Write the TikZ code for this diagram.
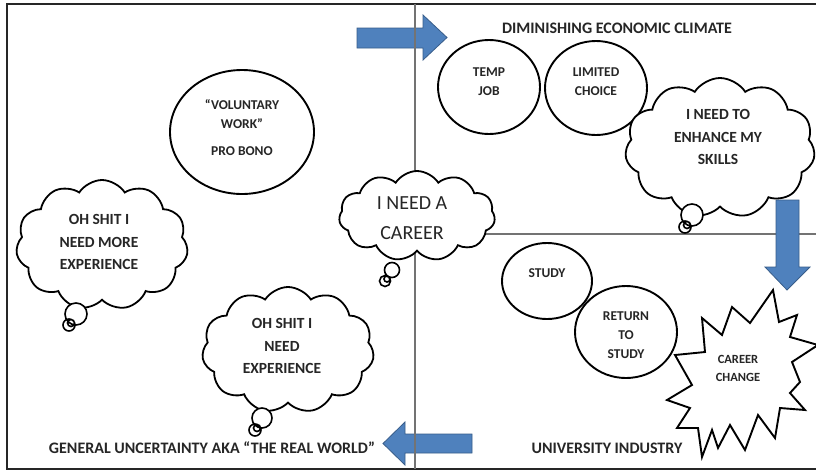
\documentclass[tikz,border=0pt]{standalone}
\usepackage{fontspec}
\setmainfont{Carlito}
\usetikzlibrary{shapes.geometric,shapes.symbols}

\definecolor{blockblue}{HTML}{4F81BD}
\definecolor{blockedge}{HTML}{385D8A}

\tikzset{
  oval/.style={draw,ellipse,line width=1.9pt,fill=white},
  thought/.style={draw,cloud,cloud puffs=11,cloud puff arc=115,cloud ignores aspect,line width=1.8pt,fill=white},
  word/.style={font=\bfseries\fontsize{13.5}{19}\selectfont,align=center,text=black!85},
  heading/.style={font=\bfseries\fontsize{16}{19}\selectfont,text=black!85},
  say/.style={font=\bfseries\fontsize{15.5}{22.5}\selectfont,align=center,text=black!85},
  block/.style={fill=blockblue,draw=blockedge,line width=0.8pt},
  divider/.style={draw=black!55,line width=1.2pt}
}

\begin{document}
\begin{tikzpicture}[x=1pt,y=-1pt]
\useasboundingbox[fill=white] (0,0) rectangle (816,472);
\draw[line width=2.4pt,black!85] (7,4) rectangle (830,469);

% quadrant lines and the three block arrows
\draw[divider] (415,234) -- (816,234);
\draw[block] (776,200) -- (799,200) -- (799,267) -- (810,267) -- (787,290) -- (765,267) -- (776,267) -- cycle;
\draw[block] (357,28) -- (423,28) -- (423,15) -- (447,37.5) -- (423,60) -- (423,48) -- (357,48) -- cycle;
\draw[block] (472,434) -- (405,434) -- (405,422) -- (383,443.5) -- (405,465) -- (405,453) -- (472,453) -- cycle;
\draw[divider] (415,4) -- (415,469);

% quadrant titles
\node[heading] (climate) at (617,28) {DIMINISHING ECONOMIC CLIMATE};
\node[heading] (realworld) at (212,448) {GENERAL UNCERTAINTY AKA ``THE REAL WORLD''};
\node[heading] (uni) at (607,448) {UNIVERSITY INDUSTRY};

% ovals
\node[oval,minimum width=144pt,minimum height=124pt] (voluntary) at (242,132) {};
\node[word] (voluntarytxt) at (242,128) {``VOLUNTARY\\WORK''\\[8pt]PRO BONO};
\node[oval,minimum width=102pt,minimum height=94pt] (temp) at (489,87) {};
\node[word] (temptxt) at (489,82) {TEMP\\JOB};
\node[oval,minimum width=102pt,minimum height=94pt] (limited) at (596,88) {};
\node[word] (limitedtxt) at (596,82) {LIMITED\\CHOICE};
\node[oval,minimum width=90pt,minimum height=76pt] (study) at (547,281) {};
\node[word] (studytxt) at (547,273) {STUDY};
\node[oval,minimum width=102pt,minimum height=92pt] (return) at (626,332) {};
\node[word] (returntxt) at (626,335) {RETURN\\TO\\STUDY};

% career change burst
\draw[line width=1.9pt,fill=white] (773,290) -- (779,322) -- (797,315) -- (790,337) -- (818,345)
  -- (792,362) -- (800,382) -- (790,393) -- (805,410) -- (780,408) -- (775,438)
  -- (758,415) -- (745,450) -- (730,425) -- (718,448) -- (712,430) -- (702,457)
  -- (698,428) -- (677,428) -- (690,408) -- (667,400) -- (692,385) -- (675,355)
  -- (705,352) -- (702,318) -- (722,335) -- (732,307) -- (750,323) -- cycle;
\node[word,font=\bfseries\fontsize{12.5}{18}\selectfont] (change) at (738,368) {CAREER\\CHANGE};

% thought clouds with their little trailing circles
\node[thought,minimum width=172pt,minimum height=130pt] (more) at (102,245) {};
\draw[line width=1.6pt,fill=white] (76,314) circle (11) (69,325) circle (6) (71,323) circle (3.5);
\node[say] (moretxt) at (99,242) {OH SHIT I\\NEED MORE\\EXPERIENCE};

\node[thought,minimum width=156pt,minimum height=90pt] (career) at (417,216) {};
\draw[line width=1.6pt,fill=white] (392,270) circle (7.5) (385,281) circle (5.5) (387,279) circle (3);
\node[font=\fontsize{20}{30}\selectfont,align=center,text=black!85] (careertxt) at (412,218) {I NEED A\\CAREER};

\node[thought,minimum width=190pt,minimum height=140pt] (skills) at (720,148) {};
\draw[line width=1.6pt,fill=white] (692,215) circle (11) (685,227) circle (6) (687,225) circle (3.5);
\node[say] (skillstxt) at (718,137) {I NEED TO\\ENHANCE MY\\SKILLS};

\node[thought,minimum width=172pt,minimum height=126pt] (need) at (288,350) {};
\draw[line width=1.6pt,fill=white] (262,418) circle (10) (255,430) circle (6) (257,428) circle (3.5);
\node[say] (needtxt) at (282,346) {OH SHIT I\\NEED\\EXPERIENCE};
\end{tikzpicture}
\end{document}
